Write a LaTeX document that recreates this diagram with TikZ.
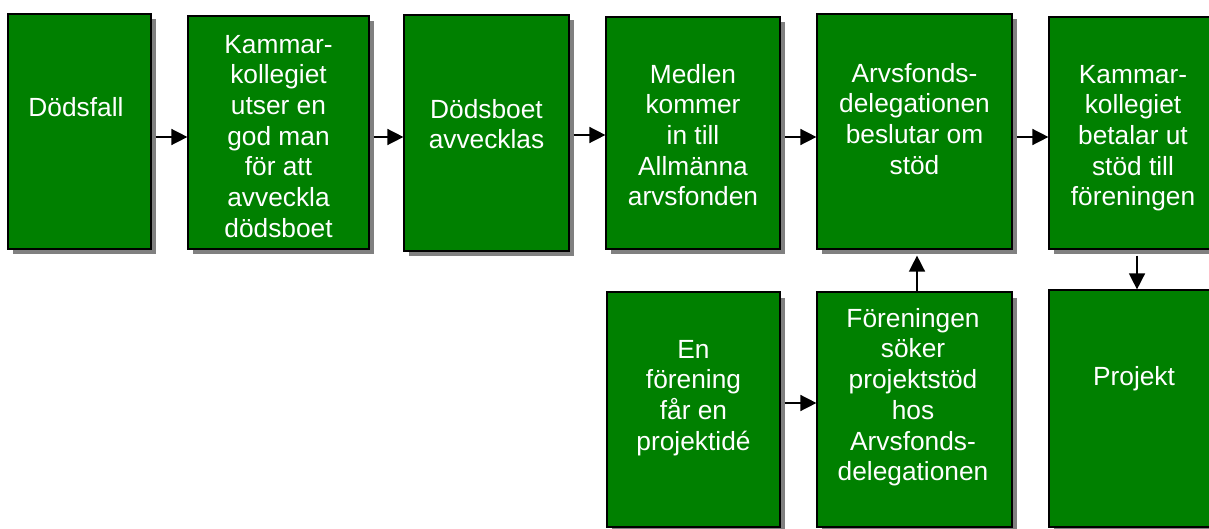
\documentclass[tikz,border=0pt]{standalone}
\usepackage{fontspec}
\setmainfont{Liberation Sans}
\usetikzlibrary{arrows.meta,shadows}
\definecolor{boxgreen}{RGB}{0,128,0}
\definecolor{shadowgray}{RGB}{128,128,128}
\newcommand{\fl}{\rule{0pt}{22pt}}
\begin{document}
\begin{tikzpicture}[x=1pt,y=-1pt,
  box/.style={draw=black, line width=1.2pt, fill=boxgreen, inner sep=0pt,
    drop shadow={shadow xshift=5pt, shadow yshift=-5.5pt, fill=shadowgray, opacity=1}},
  txt/.style={text=white, align=center, inner sep=0pt, anchor=north,
    font=\fontsize{26.3}{30.7}\selectfont},
  arr/.style={line width=1.5pt, -{Triangle[length=16pt,width=16pt]}}]
\useasboundingbox (0,0) rectangle (1209,529);
\clip (0,0) rectangle (1209,529);
% boxes
\node[box, minimum width=143pt, minimum height=235pt] (b1) at (79.5,131.5) {};
\node[box, minimum width=181pt, minimum height=233pt] (b2) at (278.5,132.5) {};
\node[box, minimum width=165pt, minimum height=236pt] (b3) at (486.5,133) {};
\node[box, minimum width=174pt, minimum height=232pt] (b4) at (693,133) {};
\node[box, minimum width=195pt, minimum height=235pt] (b5) at (914.5,131.5) {};
\node[box, minimum width=169pt, minimum height=232pt] (b6) at (1133.5,133) {};
\node[box, minimum width=173pt, minimum height=235pt] (b8) at (693.5,409.5) {};
\node[box, minimum width=195pt, minimum height=235pt] (b7) at (914.5,409.5) {};
\node[box, minimum width=169pt, minimum height=237pt] (b9) at (1133.5,408.5) {};
% texts
\node[txt] (t1) at (76,94) {\fl Dödsfall};
\node[txt] (t2) at (278.5,31) {\fl Kammar-\\kollegiet\\utser en\\god man\\för att\\avveckla\\dödsboet};
\node[txt] (t3) at (486.5,96) {\fl Dödsboet\\avvecklas};
\node[txt] (t4) at (693,61) {\fl Medlen\\kommer\\in till\\Allmänna\\arvsfonden};
\node[txt] (t5) at (914.5,60) {\fl Arvsfonds-\\delegationen\\beslutar om\\stöd};
\node[txt] (t6) at (1133,61) {\fl Kammar-\\kollegiet\\betalar ut\\stöd till\\föreningen};
\node[txt] (t8) at (693.5,336) {\fl En\\förening\\får en\\projektidé};
\node[txt] (t7) at (913,305) {\fl Föreningen\\söker\\projektstöd\\hos\\Arvsfonds-\\delegationen};
\node[txt] (t9) at (1134,363) {\fl Projekt};
% connectors
\draw[arr, shorten <=4pt] (b1.east |- {0,137}) -- (b2.west |- {0,137});
\draw[arr, shorten <=4pt] (b2.east |- {0,137}) -- (b3.west |- {0,137});
\draw[arr, shorten <=4pt] (b3.east |- {0,135}) -- (b4.west |- {0,135});
\draw[arr, shorten <=4pt] (b4.east |- {0,137}) -- (b5.west |- {0,137});
\draw[arr, shorten <=4pt] (b5.east |- {0,137}) -- (b6.west |- {0,137});
\draw[arr, shorten <=4pt] (b8.east |- {0,403}) -- (b7.west |- {0,403});
\draw[arr, shorten >=6pt] (b7.north -| {917,0}) -- (b5.south -| {917,0});
\draw[arr, shorten <=6pt] (b6.south -| {1137,0}) -- (b9.north -| {1137,0});
\end{tikzpicture}
\end{document}
